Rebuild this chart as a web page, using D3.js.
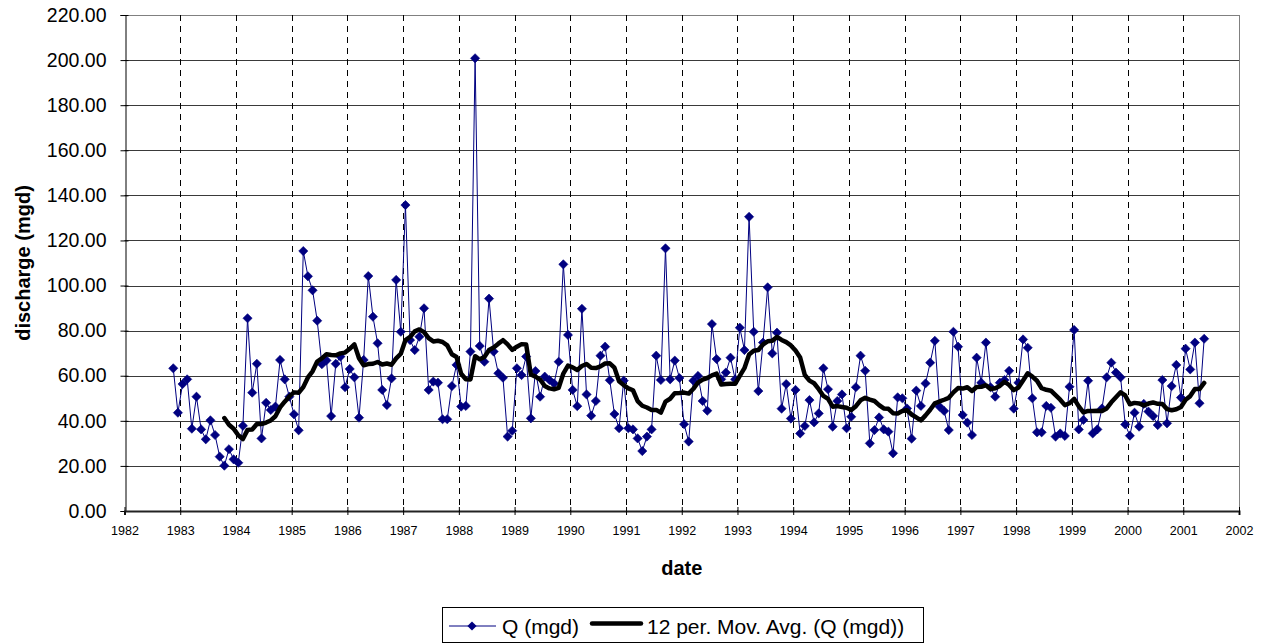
<!DOCTYPE html>
<html><head><meta charset="utf-8">
<script src="https://cdn.jsdelivr.net/npm/d3@7"></script>
<style>
html,body{margin:0;padding:0;background:#fff;}
svg{display:block;}
text{font-family:"Liberation Sans",Arial,sans-serif;fill:#000;}
</style></head>
<body>
<svg id="chart" width="1266" height="643"></svg>
<script>
// ---- data (monthly discharge, Nov 1982 – May 2001) ----
const startYear = 1982;
const startMonth = 11; // November
const discharge = [
  63.3, 43.6,
  56.3, 58.4, 36.5, 50.7, 36.2, 31.8, 40.2, 33.7, 24.1, 20.1, 27.4, 22.9,
  21.4, 37.8, 85.5, 52.5, 65.3, 32.2, 48.0, 44.8, 46.3, 67.0, 58.4, 50.7,
  42.9, 35.8, 115.3, 104.1, 97.9, 84.4, 65.1, 66.8, 42.1, 65.3, 68.5, 54.9,
  63.0, 59.3, 41.4, 67.0, 104.2, 86.2, 74.4, 53.7, 47.0, 58.8, 102.5, 79.5,
  135.7, 75.8, 71.4, 77.3, 89.9, 53.7, 57.4, 56.9, 40.7, 40.7, 55.4, 64.8,
  46.3, 46.6, 70.7, 200.8, 73.2, 66.2, 94.2, 70.7, 61.1, 59.1, 33.0, 35.6,
  63.3, 60.3, 68.5, 41.1, 62.1, 50.7, 59.6, 58.1, 56.6, 66.2, 109.4, 78.1,
  53.7, 46.5, 89.7, 51.7, 42.3, 48.8, 68.9, 72.9, 58.0, 43.0, 36.7, 57.8,
  36.7, 36.2, 32.2, 26.6, 33.0, 36.2, 68.9, 58.1, 116.5, 58.4, 66.7, 59.0,
  38.5, 30.8, 57.8, 59.9, 48.8, 44.5, 82.9, 67.4, 58.4, 61.4, 68.0, 58.4,
  81.3, 71.4, 130.5, 79.5, 53.2, 74.7, 99.2, 69.9, 79.1, 45.4, 56.3, 41.0,
  53.7, 34.4, 37.7, 49.2, 39.3, 43.3, 63.3, 54.0, 37.4, 48.8, 51.7, 36.7,
  41.8, 54.9, 68.9, 62.2, 30.0, 35.9, 41.5, 36.2, 35.2, 25.6, 50.4, 50.0,
  45.5, 32.1, 53.4, 46.6, 56.6, 65.8, 75.5, 46.3, 44.4, 35.9, 79.5, 72.9,
  42.6, 39.2, 33.7, 68.0, 56.9, 74.7, 54.9, 50.7, 56.9, 58.1, 62.2, 45.4,
  56.9, 76.1, 72.4, 50.0, 34.9, 34.9, 46.6, 45.8, 33.0, 34.4, 33.3, 55.1,
  80.3, 36.2, 40.4, 57.8, 34.4, 36.2, 45.5, 59.3, 65.8, 61.4, 59.3, 38.4,
  33.4, 43.6, 37.4, 47.5, 44.1, 42.1, 38.1, 58.1, 38.9, 55.4, 64.8, 50.3,
  72.0, 62.8, 74.7, 47.8, 76.4
];
const xTicks = d3.range(1982, 2003);           // 1982 … 2002
const yTicks = d3.range(0, 221, 20);           // 0 … 220
const maPeriod = 12;
const seriesName = "Q (mgd)";
const maName = "12 per. Mov. Avg. (Q (mgd))";

// ---- build table ----
const points = discharge.map((v, i) => {
  const m = startMonth - 1 + i;
  const yr = startYear + Math.floor(m / 12);
  const mo = m % 12;
  return { t: yr + (mo + 0.5) / 12, v };
});
const ma = [];
for (let i = maPeriod - 1; i < points.length; i++) {
  ma.push({ t: points[i].t, v: d3.mean(points.slice(i - maPeriod + 1, i + 1), d => d.v) });
}

// ---- layout ----
const L = 124.5, R = 1239, T = 15, B = 511;
const svg = d3.select("#chart");
const x = d3.scaleLinear().domain([1982, 2002]).range([L, R]);
const y = d3.scaleLinear().domain([0, 220]).range([B, T]);

// horizontal gridlines
svg.append("g").selectAll("line").data(yTicks.filter(d => d > 0)).join("line")
  .attr("x1", L).attr("x2", R)
  .attr("y1", d => Math.round(y(d)) + 0.5).attr("y2", d => Math.round(y(d)) + 0.5)
  .attr("stroke", d => d === 220 ? "#808080" : "#3a3a3a").attr("stroke-width", 1);

// vertical dashed gridlines
svg.append("g").selectAll("line").data(xTicks.filter(d => d > 1982 && d < 2002)).join("line")
  .attr("x1", d => Math.round(x(d)) + 0.5).attr("x2", d => Math.round(x(d)) + 0.5)
  .attr("y1", T).attr("y2", B)
  .attr("stroke", "#000").attr("stroke-width", 1).attr("stroke-dasharray", "6,5");

// right border
svg.append("line").attr("x1", Math.round(R) + 0.5).attr("x2", Math.round(R) + 0.5)
  .attr("y1", T).attr("y2", B).attr("stroke", "#808080");

// axes
const yAxis = d3.axisLeft(y).tickValues(yTicks).tickFormat(d3.format(".2f")).tickSize(5).tickPadding(14);
const gy = svg.append("g").attr("transform", `translate(${Math.round(L) + 0.5},0)`).call(yAxis);
gy.select(".domain").attr("stroke", "#000");
gy.selectAll(".tick line").attr("stroke", "#000").attr("x2", -5).attr("x1", 3);
gy.selectAll(".tick text").attr("font-size", "19.5px").attr("font-family", "Liberation Sans, Arial, sans-serif").attr("fill", "#000");

const xAxis = d3.axisBottom(x).tickValues(xTicks).tickFormat(d3.format("d")).tickSize(4).tickPadding(11);
const gx = svg.append("g").attr("transform", `translate(0,${B})`).call(xAxis);
gx.select(".domain").attr("stroke", "#222").attr("stroke-width", 2);
gx.selectAll(".tick line").attr("stroke", "#000").attr("y1", -4).attr("y2", 4);
gx.selectAll(".tick text").attr("font-size", "12.5px").attr("font-family", "Liberation Sans, Arial, sans-serif").attr("fill", "#000");

// Q series line
const line = d3.line().x(d => x(d.t)).y(d => y(d.v));
svg.append("path").datum(points).attr("d", line)
  .attr("fill", "none").attr("stroke", "#000080").attr("stroke-width", 1);

// diamond markers
const diamond = "M0,-4.6L4.6,0L0,4.6L-4.6,0Z";
svg.append("g").selectAll("path").data(points).join("path")
  .attr("d", diamond)
  .attr("transform", d => `translate(${x(d.t)},${y(d.v)})`)
  .attr("fill", "#000080").attr("stroke", "#000080").attr("stroke-width", 0.6);

// moving average line
svg.append("path").datum(ma).attr("d", line)
  .attr("fill", "none").attr("stroke", "#000").attr("stroke-width", 4.5)
  .attr("stroke-linejoin", "round").attr("stroke-linecap", "round");

// axis titles
svg.append("text").attr("x", (L + R) / 2).attr("y", 575)
  .attr("text-anchor", "middle").attr("font-weight", "bold").attr("font-size", "20px").text("date");
svg.append("text")
  .attr("transform", `translate(30,${(T + B) / 2}) rotate(-90)`)
  .attr("text-anchor", "middle").attr("font-weight", "bold").attr("font-size", "20px").text("discharge (mgd)");

// legend
const lg = svg.append("g");
lg.append("rect").attr("x", 442.5).attr("y", 607.5).attr("width", 481).attr("height", 35)
  .attr("fill", "#fff").attr("stroke", "#000").attr("stroke-width", 1);
lg.append("line").attr("x1", 449).attr("x2", 496).attr("y1", 626).attr("y2", 626)
  .attr("stroke", "#000080").attr("stroke-width", 1);
lg.append("path").attr("d", diamond).attr("transform", "translate(472,626)").attr("fill", "#000080");
lg.append("text").attr("x", 502).attr("y", 634).attr("font-size", "21px").text(seriesName);
lg.append("line").attr("x1", 592).attr("x2", 641).attr("y1", 623.5).attr("y2", 623.5)
  .attr("stroke", "#000").attr("stroke-width", 4.5).attr("stroke-linecap", "round");
lg.append("text").attr("x", 647).attr("y", 634).attr("font-size", "21px").text(maName);
</script>
</body></html>
